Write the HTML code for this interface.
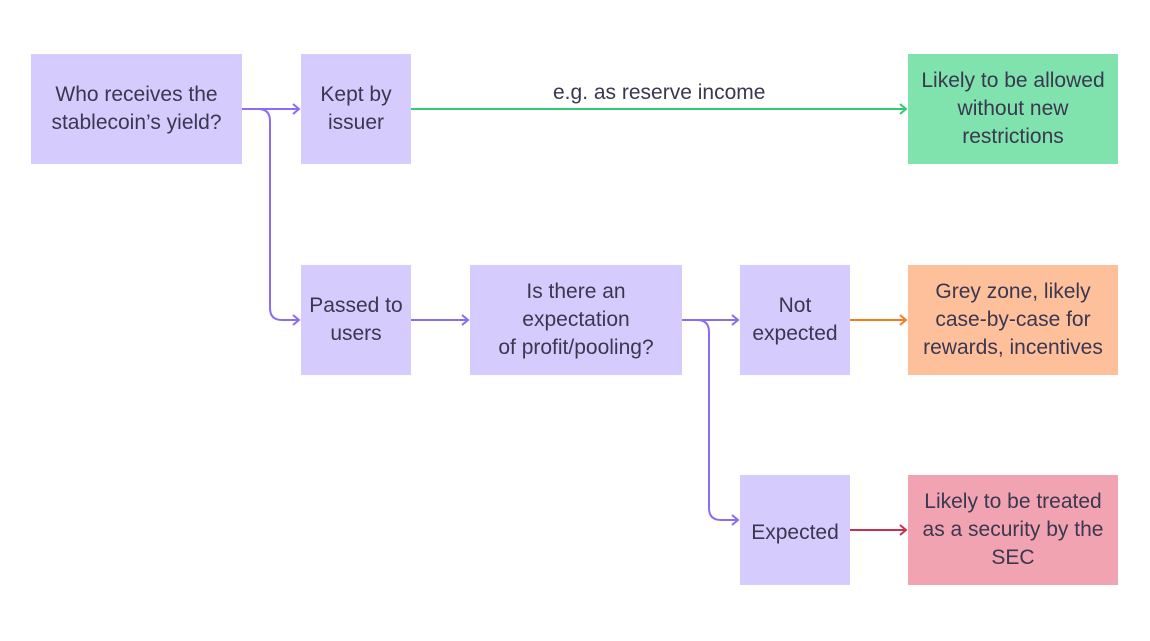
<!DOCTYPE html>
<html><head><style>
body{margin:0;background:#fff;width:1150px;height:641px;overflow:hidden;position:relative;font-family:"Liberation Sans",sans-serif}
.b{position:absolute;display:flex;align-items:center;justify-content:center;text-align:center;font-size:21px;line-height:28px;color:#3a3850;background:#d6cbfd}
svg{position:absolute;left:0;top:0}
</style></head><body>
<div class="b" style="left:31px;top:54px;width:211px;height:110px">Who receives the<br>stablecoin’s yield?</div>
<div class="b" style="left:301px;top:54px;width:110px;height:110px">Kept by<br>issuer</div>
<div class="b" style="left:908px;top:54px;width:210px;height:110px;background:#80e2ad">Likely to be allowed<br>without new<br>restrictions</div>
<div class="b" style="left:301px;top:265px;width:110px;height:110px">Passed to<br>users</div>
<div class="b" style="left:470px;top:265px;width:212px;height:110px">Is there an<br>expectation<br>of profit/pooling?</div>
<div class="b" style="left:740px;top:265px;width:110px;height:110px">Not<br>expected</div>
<div class="b" style="left:908px;top:265px;width:210px;height:110px;background:#fec09b">Grey zone, likely<br>case-by-case for<br>rewards, incentives</div>
<div class="b" style="left:740px;top:475px;width:110px;height:110px;padding-top:6px;box-sizing:border-box">Expected</div>
<div class="b" style="left:908px;top:475px;width:210px;height:110px;background:#f2a3b1">Likely to be treated<br>as a security by the<br>SEC</div>
<div style="position:absolute;left:553px;top:81px;font-size:21px;color:#3a3850">e.g. as reserve income</div>
<svg width="1150" height="641" fill="none" stroke-width="2">
<g stroke="#8b6cf5">
<path d="M242 109H299M293 104l6 5-6 5"/>
<path d="M242 109H258q12 0 12 12V308q0 12 12 12H299M293 315l6 5-6 5"/>
<path d="M411 320H468M462 315l6 5-6 5"/>
<path d="M682 320H738M732 315l6 5-6 5"/>
<path d="M682 320H697q12 0 12 12V508q0 12 12 12H738M732 515l6 5-6 5"/>
</g>
<path stroke="#2ecb74" d="M411 109H906M900 104l6 5-6 5"/>
<path stroke="#f97a24" d="M850 320H906M900 315l6 5-6 5"/>
<path stroke="#c8304f" d="M850 530H906M900 525l6 5-6 5"/>
</svg>
</body></html>
